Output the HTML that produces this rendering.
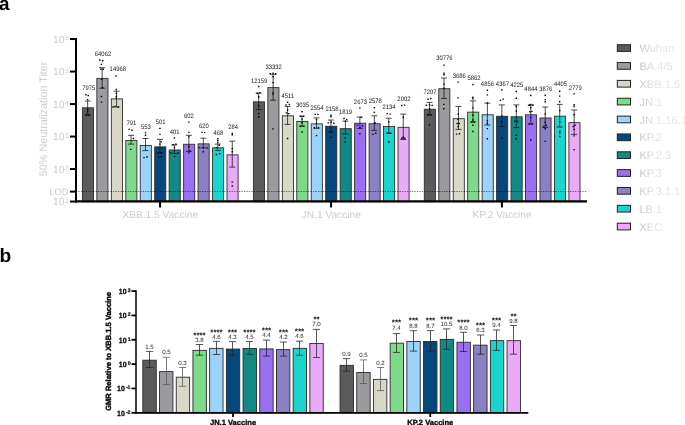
<!DOCTYPE html>
<html lang="en"><head><meta charset="utf-8"><title>Figure</title>
<style>
html,body{margin:0;padding:0;background:#fff;}
body{width:685px;height:425px;overflow:hidden;}
svg{display:block;font-family:"Liberation Sans",Arial,Helvetica,sans-serif;text-rendering:geometricPrecision;}
</style></head><body>
<svg width="685" height="425" viewBox="0 0 685 425">
<rect width="685" height="425" fill="#fff"/>
<text x="-0.9" y="10.3" font-size="18.9" font-weight="bold" fill="#000">a</text>
<text x="-0.5" y="262" font-size="19.2" font-weight="bold" fill="#000">b</text>
<g id="panel-a">
<g class="grp">
<rect x="82.40" y="107.79" width="11.10" height="93.91" fill="#5b5b5b" stroke="#2e2e2e" stroke-width="0.9"/>
<path d="M87.65 101.10V115.00M84.65 101.10h6M84.65 115.00h6" stroke="#111" stroke-width="0.75" fill="none"/>
<path d="M85.25 94.10h1.4v1.4h-1.4zM87.55 94.80h1.4v1.4h-1.4zM86.95 99.10h1.4v1.4h-1.4zM86.95 108.90h1.4v1.4h-1.4zM86.95 110.90h1.4v1.4h-1.4zM85.65 114.60h1.4v1.4h-1.4zM88.25 114.60h1.4v1.4h-1.4z" fill="#000"/>
<text transform="translate(88.80 90) scale(0.92 1)" font-size="6.4" text-anchor="middle" fill="#1a1a1a">7975</text>
<rect x="96.86" y="78.39" width="11.10" height="123.31" fill="#9b9b9f" stroke="#2e2e2e" stroke-width="0.9"/>
<path d="M102.11 67.70V88.20M99.11 67.70h6M99.11 88.20h6" stroke="#111" stroke-width="0.75" fill="none"/>
<path d="M99.11 59.30h1.4v1.4h-1.4zM102.01 60.10h1.4v1.4h-1.4zM100.71 63.70h1.4v1.4h-1.4zM100.21 68.60h1.4v1.4h-1.4zM102.61 68.60h1.4v1.4h-1.4zM100.91 78.60h1.4v1.4h-1.4zM102.01 87.00h1.4v1.4h-1.4zM100.71 95.80h1.4v1.4h-1.4zM100.71 101.40h1.4v1.4h-1.4z" fill="#000"/>
<text transform="translate(103.00 56) scale(0.92 1)" font-size="6.4" text-anchor="middle" fill="#1a1a1a">64062</text>
<rect x="111.32" y="98.91" width="11.10" height="102.79" fill="#d9d7c7" stroke="#2e2e2e" stroke-width="0.9"/>
<path d="M116.57 91.20V107.00M113.57 91.20h6M113.57 107.00h6" stroke="#111" stroke-width="0.75" fill="none"/>
<path d="M115.37 75.30h1.4v1.4h-1.4zM115.57 92.70h1.4v1.4h-1.4zM115.57 88.80h1.4v1.4h-1.4zM115.57 95.80h1.4v1.4h-1.4zM115.57 97.70h1.4v1.4h-1.4zM112.27 106.30h1.4v1.4h-1.4zM114.27 105.70h1.4v1.4h-1.4zM117.57 106.30h1.4v1.4h-1.4z" fill="#000"/>
<text transform="translate(117.80 71) scale(0.92 1)" font-size="6.4" text-anchor="middle" fill="#1a1a1a">14968</text>
<rect x="125.78" y="140.41" width="11.10" height="61.29" fill="#7fd98a" stroke="#2e2e2e" stroke-width="0.9"/>
<path d="M131.03 135.30V144.10M128.03 135.30h6M128.03 144.10h6" stroke="#111" stroke-width="0.75" fill="none"/>
<path d="M128.43 128.70h1.4v1.4h-1.4zM131.23 129.50h1.4v1.4h-1.4zM132.63 137.80h1.4v1.4h-1.4zM130.03 148.70h1.4v1.4h-1.4z" fill="#000"/>
<text transform="translate(131.40 125) scale(0.92 1)" font-size="6.4" text-anchor="middle" fill="#1a1a1a">791</text>
<rect x="140.24" y="145.46" width="11.10" height="56.24" fill="#9bd3fb" stroke="#2e2e2e" stroke-width="0.9"/>
<path d="M145.49 138.50V150.60M142.49 138.50h6M142.49 150.60h6" stroke="#111" stroke-width="0.75" fill="none"/>
<path d="M144.79 132.20h1.4v1.4h-1.4zM144.79 134.60h1.4v1.4h-1.4zM143.29 156.90h1.4v1.4h-1.4zM146.29 156.30h1.4v1.4h-1.4z" fill="#000"/>
<text transform="translate(145.90 129) scale(0.92 1)" font-size="6.4" text-anchor="middle" fill="#1a1a1a">553</text>
<rect x="154.70" y="146.86" width="11.10" height="54.84" fill="#06487c" stroke="#2e2e2e" stroke-width="0.9"/>
<path d="M159.95 139.40V152.90M156.95 139.40h6M156.95 152.90h6" stroke="#111" stroke-width="0.75" fill="none"/>
<path d="M159.25 127.80h1.4v1.4h-1.4zM159.25 133.70h1.4v1.4h-1.4zM160.45 141.10h1.4v1.4h-1.4zM159.25 143.40h1.4v1.4h-1.4zM157.45 152.20h1.4v1.4h-1.4zM160.45 152.20h1.4v1.4h-1.4zM158.05 156.30h1.4v1.4h-1.4zM160.65 156.10h1.4v1.4h-1.4z" fill="#000"/>
<text transform="translate(160.60 124) scale(0.92 1)" font-size="6.4" text-anchor="middle" fill="#1a1a1a">501</text>
<rect x="169.16" y="150.00" width="11.10" height="51.70" fill="#0f8a84" stroke="#2e2e2e" stroke-width="0.9"/>
<path d="M174.41 144.90V153.50M171.41 144.90h6M171.41 153.50h6" stroke="#111" stroke-width="0.75" fill="none"/>
<path d="M173.71 137.30h1.4v1.4h-1.4zM172.31 144.00h1.4v1.4h-1.4zM175.21 143.40h1.4v1.4h-1.4zM173.71 146.90h1.4v1.4h-1.4zM169.91 152.20h1.4v1.4h-1.4zM177.61 152.20h1.4v1.4h-1.4zM173.71 155.80h1.4v1.4h-1.4z" fill="#000"/>
<text transform="translate(174.70 134) scale(0.92 1)" font-size="6.4" text-anchor="middle" fill="#1a1a1a">401</text>
<rect x="183.62" y="144.26" width="11.10" height="57.44" fill="#9a70f2" stroke="#2e2e2e" stroke-width="0.9"/>
<path d="M188.87 135.30V151.40M185.87 135.30h6M185.87 151.40h6" stroke="#111" stroke-width="0.75" fill="none"/>
<path d="M188.17 121.40h1.4v1.4h-1.4zM188.17 131.70h1.4v1.4h-1.4zM188.17 135.80h1.4v1.4h-1.4zM188.17 145.80h1.4v1.4h-1.4zM188.97 149.90h1.4v1.4h-1.4zM188.17 152.20h1.4v1.4h-1.4z" fill="#000"/>
<text transform="translate(188.90 118) scale(0.92 1)" font-size="6.4" text-anchor="middle" fill="#1a1a1a">602</text>
<rect x="198.08" y="143.85" width="11.10" height="57.85" fill="#8a80c3" stroke="#2e2e2e" stroke-width="0.9"/>
<path d="M203.33 138.20V147.90M200.33 138.20h6M200.33 147.90h6" stroke="#111" stroke-width="0.75" fill="none"/>
<path d="M201.43 131.70h1.4v1.4h-1.4zM204.03 131.90h1.4v1.4h-1.4zM198.53 146.90h1.4v1.4h-1.4zM202.63 147.20h1.4v1.4h-1.4zM206.43 147.20h1.4v1.4h-1.4zM202.63 151.10h1.4v1.4h-1.4z" fill="#000"/>
<text transform="translate(203.80 128) scale(0.92 1)" font-size="6.4" text-anchor="middle" fill="#1a1a1a">620</text>
<rect x="212.54" y="147.82" width="11.10" height="53.88" fill="#1ad5cd" stroke="#2e2e2e" stroke-width="0.9"/>
<path d="M217.79 144.10V150.40M214.79 144.10h6M214.79 150.40h6" stroke="#111" stroke-width="0.75" fill="none"/>
<path d="M217.09 138.10h1.4v1.4h-1.4zM217.09 140.10h1.4v1.4h-1.4zM217.09 142.00h1.4v1.4h-1.4zM218.59 144.60h1.4v1.4h-1.4zM215.69 146.90h1.4v1.4h-1.4zM215.69 153.80h1.4v1.4h-1.4zM218.99 153.10h1.4v1.4h-1.4z" fill="#000"/>
<text transform="translate(218.30 135) scale(0.92 1)" font-size="6.4" text-anchor="middle" fill="#1a1a1a">468</text>
<rect x="227.00" y="154.87" width="11.10" height="46.83" fill="#e9aaf9" stroke="#2e2e2e" stroke-width="0.9"/>
<path d="M232.25 141.20V167.10M229.25 141.20h6M229.25 167.10h6" stroke="#111" stroke-width="0.75" fill="none"/>
<path d="M231.55 132.80h1.4v1.4h-1.4zM231.55 134.00h1.4v1.4h-1.4zM231.55 148.10h1.4v1.4h-1.4zM231.55 151.10h1.4v1.4h-1.4zM231.55 181.40h1.4v1.4h-1.4zM231.55 185.30h1.4v1.4h-1.4z" fill="#000"/>
<text transform="translate(233.20 129) scale(0.92 1)" font-size="6.4" text-anchor="middle" fill="#1a1a1a">284</text>
<path d="M160.05 201.7V207.5" stroke="#000" stroke-width="2"/>
<text x="160.25" y="217.50" font-size="10.2" text-anchor="middle" fill="#cdcdcd">XBB.1.5 Vaccine</text>
</g>
<g class="grp">
<rect x="253.40" y="101.84" width="11.10" height="99.86" fill="#5b5b5b" stroke="#2e2e2e" stroke-width="0.9"/>
<path d="M258.65 93.20V109.70M255.65 93.20h6M255.65 109.70h6" stroke="#111" stroke-width="0.75" fill="none"/>
<path d="M257.95 85.80h1.4v1.4h-1.4zM256.55 92.50h1.4v1.4h-1.4zM259.25 91.90h1.4v1.4h-1.4zM257.95 96.10h1.4v1.4h-1.4zM257.95 96.70h1.4v1.4h-1.4zM257.95 104.90h1.4v1.4h-1.4zM257.95 112.80h1.4v1.4h-1.4zM257.95 116.30h1.4v1.4h-1.4z" fill="#000"/>
<text transform="translate(259.10 83) scale(0.92 1)" font-size="6.4" text-anchor="middle" fill="#1a1a1a">12159</text>
<rect x="267.86" y="87.61" width="11.10" height="114.09" fill="#9b9b9f" stroke="#2e2e2e" stroke-width="0.9"/>
<path d="M273.11 74.40V100.20M270.11 74.40h6M270.11 100.20h6" stroke="#111" stroke-width="0.75" fill="none"/>
<path d="M269.51 73.10h1.4v1.4h-1.4zM272.41 72.50h1.4v1.4h-1.4zM275.01 73.10h1.4v1.4h-1.4zM272.41 76.10h1.4v1.4h-1.4zM272.41 81.90h1.4v1.4h-1.4zM272.41 91.90h1.4v1.4h-1.4zM272.41 93.70h1.4v1.4h-1.4zM272.21 128.20h1.4v1.4h-1.4z" fill="#000"/>
<text transform="translate(273.60 69) scale(0.92 1)" font-size="6.4" text-anchor="middle" fill="#1a1a1a">33332</text>
<rect x="282.32" y="115.84" width="11.10" height="85.86" fill="#d9d7c7" stroke="#2e2e2e" stroke-width="0.9"/>
<path d="M287.57 106.40V124.40M284.57 106.40h6M284.57 124.40h6" stroke="#111" stroke-width="0.75" fill="none"/>
<path d="M286.87 101.60h1.4v1.4h-1.4zM285.37 104.30h1.4v1.4h-1.4zM288.67 103.70h1.4v1.4h-1.4zM286.87 109.30h1.4v1.4h-1.4zM285.67 112.20h1.4v1.4h-1.4zM288.07 112.90h1.4v1.4h-1.4zM286.87 137.80h1.4v1.4h-1.4z" fill="#000"/>
<text transform="translate(287.90 98) scale(0.92 1)" font-size="6.4" text-anchor="middle" fill="#1a1a1a">4511</text>
<rect x="296.78" y="121.43" width="11.10" height="80.27" fill="#7fd98a" stroke="#2e2e2e" stroke-width="0.9"/>
<path d="M302.03 116.20V126.20M299.03 116.20h6M299.03 126.20h6" stroke="#111" stroke-width="0.75" fill="none"/>
<path d="M301.33 111.10h1.4v1.4h-1.4zM300.13 115.50h1.4v1.4h-1.4zM302.53 115.50h1.4v1.4h-1.4zM301.33 118.40h1.4v1.4h-1.4zM301.33 121.90h1.4v1.4h-1.4zM299.83 125.50h1.4v1.4h-1.4zM302.73 125.50h1.4v1.4h-1.4zM301.33 131.30h1.4v1.4h-1.4z" fill="#000"/>
<text transform="translate(302.60 107) scale(0.92 1)" font-size="6.4" text-anchor="middle" fill="#1a1a1a">3035</text>
<rect x="311.24" y="123.87" width="11.10" height="77.83" fill="#9bd3fb" stroke="#2e2e2e" stroke-width="0.9"/>
<path d="M316.49 117.90V128.30M313.49 117.90h6M313.49 128.30h6" stroke="#111" stroke-width="0.75" fill="none"/>
<path d="M314.49 113.70h1.4v1.4h-1.4zM317.19 113.70h1.4v1.4h-1.4zM315.79 119.00h1.4v1.4h-1.4zM315.79 122.50h1.4v1.4h-1.4zM313.69 127.00h1.4v1.4h-1.4zM317.79 127.00h1.4v1.4h-1.4zM315.79 134.90h1.4v1.4h-1.4z" fill="#000"/>
<text transform="translate(317.00 110) scale(0.92 1)" font-size="6.4" text-anchor="middle" fill="#1a1a1a">2554</text>
<rect x="325.70" y="126.24" width="11.10" height="75.46" fill="#06487c" stroke="#2e2e2e" stroke-width="0.9"/>
<path d="M330.95 120.00V132.00M327.95 120.00h6M327.95 132.00h6" stroke="#111" stroke-width="0.75" fill="none"/>
<path d="M330.25 114.50h1.4v1.4h-1.4zM330.25 116.10h1.4v1.4h-1.4zM327.55 122.20h1.4v1.4h-1.4zM330.45 121.60h1.4v1.4h-1.4zM333.15 122.50h1.4v1.4h-1.4zM330.25 131.30h1.4v1.4h-1.4zM330.25 136.70h1.4v1.4h-1.4z" fill="#000"/>
<text transform="translate(332.10 111) scale(0.92 1)" font-size="6.4" text-anchor="middle" fill="#1a1a1a">2158</text>
<rect x="340.16" y="128.66" width="11.10" height="73.04" fill="#0f8a84" stroke="#2e2e2e" stroke-width="0.9"/>
<path d="M345.41 121.10V134.00M342.41 121.10h6M342.41 134.00h6" stroke="#111" stroke-width="0.75" fill="none"/>
<path d="M343.31 117.80h1.4v1.4h-1.4zM346.01 118.70h1.4v1.4h-1.4zM344.81 120.40h1.4v1.4h-1.4zM344.51 137.20h1.4v1.4h-1.4zM344.51 141.30h1.4v1.4h-1.4z" fill="#000"/>
<text transform="translate(345.60 114) scale(0.92 1)" font-size="6.4" text-anchor="middle" fill="#1a1a1a">1819</text>
<rect x="354.62" y="123.22" width="11.10" height="78.48" fill="#9a70f2" stroke="#2e2e2e" stroke-width="0.9"/>
<path d="M359.87 117.00V128.30M356.87 117.00h6M356.87 128.30h6" stroke="#111" stroke-width="0.75" fill="none"/>
<path d="M359.17 107.20h1.4v1.4h-1.4zM360.37 116.70h1.4v1.4h-1.4zM356.57 124.70h1.4v1.4h-1.4zM361.77 125.10h1.4v1.4h-1.4zM359.17 127.00h1.4v1.4h-1.4zM359.17 133.10h1.4v1.4h-1.4z" fill="#000"/>
<text transform="translate(360.40 104) scale(0.92 1)" font-size="6.4" text-anchor="middle" fill="#1a1a1a">2673</text>
<rect x="369.08" y="123.73" width="11.10" height="77.97" fill="#8a80c3" stroke="#2e2e2e" stroke-width="0.9"/>
<path d="M374.33 115.80V130.30M371.33 115.80h6M371.33 130.30h6" stroke="#111" stroke-width="0.75" fill="none"/>
<path d="M373.63 106.90h1.4v1.4h-1.4zM373.63 111.70h1.4v1.4h-1.4zM373.63 122.50h1.4v1.4h-1.4zM374.53 122.30h1.4v1.4h-1.4zM372.23 133.70h1.4v1.4h-1.4zM375.13 132.50h1.4v1.4h-1.4z" fill="#000"/>
<text transform="translate(375.30 103) scale(0.92 1)" font-size="6.4" text-anchor="middle" fill="#1a1a1a">2578</text>
<rect x="383.54" y="126.40" width="11.10" height="75.30" fill="#1ad5cd" stroke="#2e2e2e" stroke-width="0.9"/>
<path d="M388.79 118.20V133.20M385.79 118.20h6M385.79 133.20h6" stroke="#111" stroke-width="0.75" fill="none"/>
<path d="M386.59 112.90h1.4v1.4h-1.4zM389.49 113.40h1.4v1.4h-1.4zM388.09 121.30h1.4v1.4h-1.4zM386.89 132.50h1.4v1.4h-1.4zM389.49 132.50h1.4v1.4h-1.4zM388.09 141.30h1.4v1.4h-1.4z" fill="#000"/>
<text transform="translate(389.00 109) scale(0.92 1)" font-size="6.4" text-anchor="middle" fill="#1a1a1a">2134</text>
<rect x="398.00" y="127.30" width="11.10" height="74.40" fill="#e9aaf9" stroke="#2e2e2e" stroke-width="0.9"/>
<path d="M403.25 114.10V139.50M400.25 114.10h6M400.25 139.50h6" stroke="#111" stroke-width="0.75" fill="none"/>
<path d="M401.05 104.80h1.4v1.4h-1.4zM403.95 104.40h1.4v1.4h-1.4zM402.55 116.60h1.4v1.4h-1.4zM401.05 137.60h1.4v1.4h-1.4zM403.95 137.60h1.4v1.4h-1.4zM402.55 136.60h1.4v1.4h-1.4z" fill="#000"/>
<text transform="translate(403.90 101) scale(0.92 1)" font-size="6.4" text-anchor="middle" fill="#1a1a1a">2002</text>
<path d="M331.05 201.7V207.5" stroke="#000" stroke-width="2"/>
<text x="331.25" y="217.50" font-size="10.2" text-anchor="middle" fill="#cdcdcd">JN.1 Vaccine</text>
</g>
<g class="grp">
<rect x="424.30" y="109.22" width="11.10" height="92.48" fill="#5b5b5b" stroke="#2e2e2e" stroke-width="0.9"/>
<path d="M429.55 102.40V114.70M426.55 102.40h6M426.55 114.70h6" stroke="#111" stroke-width="0.75" fill="none"/>
<path d="M427.35 98.50h1.4v1.4h-1.4zM430.05 97.80h1.4v1.4h-1.4zM425.75 104.60h1.4v1.4h-1.4zM428.85 104.30h1.4v1.4h-1.4zM431.45 104.80h1.4v1.4h-1.4zM428.85 108.10h1.4v1.4h-1.4zM427.35 114.30h1.4v1.4h-1.4zM430.25 114.30h1.4v1.4h-1.4zM428.85 124.30h1.4v1.4h-1.4z" fill="#000"/>
<text transform="translate(430.00 94) scale(0.92 1)" font-size="6.4" text-anchor="middle" fill="#1a1a1a">7207</text>
<rect x="438.76" y="88.73" width="11.10" height="112.97" fill="#9b9b9f" stroke="#2e2e2e" stroke-width="0.9"/>
<path d="M444.01 78.00V98.50M441.01 78.00h6M441.01 98.50h6" stroke="#111" stroke-width="0.75" fill="none"/>
<path d="M443.31 64.40h1.4v1.4h-1.4zM443.31 72.50h1.4v1.4h-1.4zM443.31 74.00h1.4v1.4h-1.4zM443.31 83.40h1.4v1.4h-1.4zM443.31 87.50h1.4v1.4h-1.4zM443.11 103.70h1.4v1.4h-1.4zM443.11 108.10h1.4v1.4h-1.4z" fill="#000"/>
<text transform="translate(444.40 60) scale(0.92 1)" font-size="6.4" text-anchor="middle" fill="#1a1a1a">30776</text>
<rect x="453.22" y="118.69" width="11.10" height="83.01" fill="#d9d7c7" stroke="#2e2e2e" stroke-width="0.9"/>
<path d="M458.47 106.50V129.40M455.47 106.50h6M455.47 129.40h6" stroke="#111" stroke-width="0.75" fill="none"/>
<path d="M457.37 81.40h1.4v1.4h-1.4zM457.37 97.20h1.4v1.4h-1.4zM457.37 113.40h1.4v1.4h-1.4zM457.37 118.70h1.4v1.4h-1.4zM456.47 122.80h1.4v1.4h-1.4zM458.47 122.80h1.4v1.4h-1.4zM457.37 125.80h1.4v1.4h-1.4zM455.87 133.40h1.4v1.4h-1.4zM458.77 133.10h1.4v1.4h-1.4z" fill="#000"/>
<text transform="translate(459.20 78) scale(0.92 1)" font-size="6.4" text-anchor="middle" fill="#1a1a1a">3686</text>
<rect x="467.68" y="112.14" width="11.10" height="89.56" fill="#7fd98a" stroke="#2e2e2e" stroke-width="0.9"/>
<path d="M472.93 100.90V121.80M469.93 100.90h6M469.93 121.80h6" stroke="#111" stroke-width="0.75" fill="none"/>
<path d="M472.23 83.80h1.4v1.4h-1.4zM472.23 96.60h1.4v1.4h-1.4zM472.23 98.10h1.4v1.4h-1.4zM472.23 107.20h1.4v1.4h-1.4zM472.23 114.60h1.4v1.4h-1.4zM472.23 119.30h1.4v1.4h-1.4zM471.03 121.70h1.4v1.4h-1.4zM473.43 121.70h1.4v1.4h-1.4zM472.23 124.60h1.4v1.4h-1.4zM472.23 130.80h1.4v1.4h-1.4z" fill="#000"/>
<text transform="translate(474.10 80) scale(0.92 1)" font-size="6.4" text-anchor="middle" fill="#1a1a1a">5862</text>
<rect x="482.14" y="114.80" width="11.10" height="86.90" fill="#9bd3fb" stroke="#2e2e2e" stroke-width="0.9"/>
<path d="M487.39 103.20V125.00M484.39 103.20h6M484.39 125.00h6" stroke="#111" stroke-width="0.75" fill="none"/>
<path d="M486.69 89.50h1.4v1.4h-1.4zM486.69 94.20h1.4v1.4h-1.4zM486.69 102.30h1.4v1.4h-1.4zM486.69 119.90h1.4v1.4h-1.4zM486.69 122.50h1.4v1.4h-1.4zM486.69 127.90h1.4v1.4h-1.4zM486.69 138.10h1.4v1.4h-1.4z" fill="#000"/>
<text transform="translate(487.40 86) scale(0.92 1)" font-size="6.4" text-anchor="middle" fill="#1a1a1a">4856</text>
<rect x="496.60" y="116.29" width="11.10" height="85.41" fill="#06487c" stroke="#2e2e2e" stroke-width="0.9"/>
<path d="M501.85 104.90V126.50M498.85 104.90h6M498.85 126.50h6" stroke="#111" stroke-width="0.75" fill="none"/>
<path d="M501.15 89.30h1.4v1.4h-1.4zM499.75 99.70h1.4v1.4h-1.4zM502.35 98.40h1.4v1.4h-1.4zM501.15 115.20h1.4v1.4h-1.4zM501.15 121.10h1.4v1.4h-1.4zM501.15 137.30h1.4v1.4h-1.4z" fill="#000"/>
<text transform="translate(502.40 86) scale(0.92 1)" font-size="6.4" text-anchor="middle" fill="#1a1a1a">4367</text>
<rect x="511.06" y="116.76" width="11.10" height="84.94" fill="#0f8a84" stroke="#2e2e2e" stroke-width="0.9"/>
<path d="M516.31 104.90V127.60M513.31 104.90h6M513.31 127.60h6" stroke="#111" stroke-width="0.75" fill="none"/>
<path d="M515.61 90.80h1.4v1.4h-1.4zM515.61 97.50h1.4v1.4h-1.4zM515.61 105.80h1.4v1.4h-1.4zM515.61 110.50h1.4v1.4h-1.4zM514.31 120.50h1.4v1.4h-1.4zM517.01 120.80h1.4v1.4h-1.4zM515.61 134.60h1.4v1.4h-1.4zM515.61 138.10h1.4v1.4h-1.4z" fill="#000"/>
<text transform="translate(516.70 87) scale(0.92 1)" font-size="6.4" text-anchor="middle" fill="#1a1a1a">4225</text>
<rect x="525.52" y="114.83" width="11.10" height="86.87" fill="#9a70f2" stroke="#2e2e2e" stroke-width="0.9"/>
<path d="M530.77 105.30V123.90M527.77 105.30h6M527.77 123.90h6" stroke="#111" stroke-width="0.75" fill="none"/>
<path d="M530.07 94.80h1.4v1.4h-1.4zM528.57 104.30h1.4v1.4h-1.4zM530.07 103.70h1.4v1.4h-1.4zM532.07 104.30h1.4v1.4h-1.4zM530.07 106.90h1.4v1.4h-1.4zM529.17 111.10h1.4v1.4h-1.4zM531.17 110.70h1.4v1.4h-1.4zM530.07 116.90h1.4v1.4h-1.4zM528.57 123.40h1.4v1.4h-1.4zM531.47 123.40h1.4v1.4h-1.4zM530.07 139.30h1.4v1.4h-1.4z" fill="#000"/>
<text transform="translate(530.90 91) scale(0.92 1)" font-size="6.4" text-anchor="middle" fill="#1a1a1a">4844</text>
<rect x="539.98" y="117.98" width="11.10" height="83.72" fill="#8a80c3" stroke="#2e2e2e" stroke-width="0.9"/>
<path d="M545.23 107.00V127.40M542.23 107.00h6M542.23 127.40h6" stroke="#111" stroke-width="0.75" fill="none"/>
<path d="M544.53 94.60h1.4v1.4h-1.4zM544.53 98.90h1.4v1.4h-1.4zM544.53 101.10h1.4v1.4h-1.4zM544.53 113.40h1.4v1.4h-1.4zM544.53 121.70h1.4v1.4h-1.4zM543.13 125.80h1.4v1.4h-1.4zM545.43 124.60h1.4v1.4h-1.4zM544.53 128.10h1.4v1.4h-1.4zM544.53 140.70h1.4v1.4h-1.4z" fill="#000"/>
<text transform="translate(545.80 91) scale(0.92 1)" font-size="6.4" text-anchor="middle" fill="#1a1a1a">3876</text>
<rect x="554.44" y="116.17" width="11.10" height="85.53" fill="#1ad5cd" stroke="#2e2e2e" stroke-width="0.9"/>
<path d="M559.69 104.40V127.00M556.69 104.40h6M556.69 127.00h6" stroke="#111" stroke-width="0.75" fill="none"/>
<path d="M558.99 90.50h1.4v1.4h-1.4zM558.99 95.40h1.4v1.4h-1.4zM558.99 101.10h1.4v1.4h-1.4zM558.99 109.90h1.4v1.4h-1.4zM558.99 121.10h1.4v1.4h-1.4zM558.99 130.50h1.4v1.4h-1.4zM558.99 132.30h1.4v1.4h-1.4zM558.99 135.80h1.4v1.4h-1.4z" fill="#000"/>
<text transform="translate(560.50 86) scale(0.92 1)" font-size="6.4" text-anchor="middle" fill="#1a1a1a">4405</text>
<rect x="568.90" y="122.67" width="11.10" height="79.03" fill="#e9aaf9" stroke="#2e2e2e" stroke-width="0.9"/>
<path d="M574.15 110.00V134.40M571.15 110.00h6M571.15 134.40h6" stroke="#111" stroke-width="0.75" fill="none"/>
<path d="M573.45 93.20h1.4v1.4h-1.4zM573.45 104.00h1.4v1.4h-1.4zM573.45 105.80h1.4v1.4h-1.4zM573.45 114.00h1.4v1.4h-1.4zM572.55 125.80h1.4v1.4h-1.4zM574.25 124.60h1.4v1.4h-1.4zM573.45 128.70h1.4v1.4h-1.4zM573.45 135.20h1.4v1.4h-1.4zM573.45 148.90h1.4v1.4h-1.4z" fill="#000"/>
<text transform="translate(575.20 90) scale(0.92 1)" font-size="6.4" text-anchor="middle" fill="#1a1a1a">2779</text>
<path d="M501.95 201.7V207.5" stroke="#000" stroke-width="2"/>
<text x="502.15" y="217.50" font-size="10.2" text-anchor="middle" fill="#cdcdcd">KP.2 Vaccine</text>
</g>
<path d="M76.0 191.5H587" stroke="#000" stroke-opacity="0.75" stroke-width="0.7" stroke-dasharray="1.3 1.17" fill="none"/>
<path d="M76.0 38.1V202.5" stroke="#000" stroke-width="2" fill="none"/>
<path d="M75.0 201.39999999999998H587" stroke="#000" stroke-width="2.3" fill="none"/>
<path d="M70 191.6H76.0" stroke="#000" stroke-width="2"/>
<path d="M70 201.55H76.0" stroke="#000" stroke-width="2"/>
<text x="64.5" y="205.00" font-size="10.4" text-anchor="end" fill="#cdcdcd">10</text>
<text x="65.3" y="202.50" font-size="6.4" fill="#cdcdcd">1</text>
<path d="M70 169.05H76.0" stroke="#000" stroke-width="2"/>
<text x="64.5" y="172.50" font-size="10.4" text-anchor="end" fill="#cdcdcd">10</text>
<text x="65.3" y="170.00" font-size="6.4" fill="#cdcdcd">2</text>
<path d="M70 136.55H76.0" stroke="#000" stroke-width="2"/>
<text x="64.5" y="140.00" font-size="10.4" text-anchor="end" fill="#cdcdcd">10</text>
<text x="65.3" y="137.50" font-size="6.4" fill="#cdcdcd">3</text>
<path d="M70 104.05H76.0" stroke="#000" stroke-width="2"/>
<text x="64.5" y="107.50" font-size="10.4" text-anchor="end" fill="#cdcdcd">10</text>
<text x="65.3" y="105.00" font-size="6.4" fill="#cdcdcd">4</text>
<path d="M70 71.55H76.0" stroke="#000" stroke-width="2"/>
<text x="64.5" y="75.00" font-size="10.4" text-anchor="end" fill="#cdcdcd">10</text>
<text x="65.3" y="72.50" font-size="6.4" fill="#cdcdcd">5</text>
<path d="M70 39.05H76.0" stroke="#000" stroke-width="2"/>
<text x="64.5" y="42.50" font-size="10.4" text-anchor="end" fill="#cdcdcd">10</text>
<text x="65.3" y="40.00" font-size="6.4" fill="#cdcdcd">6</text>
<text x="68.6" y="194.7" font-size="9.4" text-anchor="end" fill="#cdcdcd">LOD</text>
<text transform="translate(47.4 118.9) rotate(-90)" font-size="10.8" text-anchor="middle" fill="#cdcdcd">50% Neutralization Titer</text>
</g>
<defs><linearGradient id="lg" gradientUnits="userSpaceOnUse" x1="640" y1="0" x2="654" y2="0"><stop offset="0" stop-color="#c4c4c4"/><stop offset="1" stop-color="#e4e4e4"/></linearGradient></defs>
<g id="legend">
<rect x="617.3" y="44.70" width="13.2" height="6.7" fill="#5b5b5b" stroke="#222" stroke-width="1"/>
<text x="639.4" y="52.20" font-size="11.1" fill="url(#lg)">Wuhan</text>
<rect x="617.3" y="62.55" width="13.2" height="6.7" fill="#9b9b9f" stroke="#222" stroke-width="1"/>
<text x="639.4" y="70.05" font-size="11.1" fill="url(#lg)">BA.4/5</text>
<rect x="617.3" y="80.40" width="13.2" height="6.7" fill="#d9d7c7" stroke="#222" stroke-width="1"/>
<text x="639.4" y="87.90" font-size="11.1" fill="url(#lg)">XBB.1.5</text>
<rect x="617.3" y="98.25" width="13.2" height="6.7" fill="#7fd98a" stroke="#222" stroke-width="1"/>
<text x="639.4" y="105.75" font-size="11.1" fill="url(#lg)">JN.1</text>
<rect x="617.3" y="116.10" width="13.2" height="6.7" fill="#9bd3fb" stroke="#222" stroke-width="1"/>
<text x="639.4" y="123.60" font-size="11.1" fill="url(#lg)">JN.1.16.1</text>
<rect x="617.3" y="133.95" width="13.2" height="6.7" fill="#06487c" stroke="#222" stroke-width="1"/>
<text x="639.4" y="141.45" font-size="11.1" fill="url(#lg)">KP.2</text>
<rect x="617.3" y="151.80" width="13.2" height="6.7" fill="#0f8a84" stroke="#222" stroke-width="1"/>
<text x="639.4" y="159.30" font-size="11.1" fill="url(#lg)">KP.2.3</text>
<rect x="617.3" y="169.65" width="13.2" height="6.7" fill="#9a70f2" stroke="#222" stroke-width="1"/>
<text x="639.4" y="177.15" font-size="11.1" fill="url(#lg)">KP.3</text>
<rect x="617.3" y="187.50" width="13.2" height="6.7" fill="#8a80c3" stroke="#222" stroke-width="1"/>
<text x="639.4" y="195.00" font-size="11.1" fill="url(#lg)">KP.3.1.1</text>
<rect x="617.3" y="205.35" width="13.2" height="6.7" fill="#1ad5cd" stroke="#222" stroke-width="1"/>
<text x="639.4" y="212.85" font-size="11.1" fill="url(#lg)">LB.1</text>
<rect x="617.3" y="223.20" width="13.2" height="6.7" fill="#e9aaf9" stroke="#222" stroke-width="1"/>
<text x="639.4" y="230.70" font-size="11.1" fill="url(#lg)">XEC</text>
</g>
<g id="panel-b">
<g class="grp">
<rect x="142.85" y="360.20" width="13.40" height="52.60" fill="#5b5b5b" stroke="#2a2a2a" stroke-width="0.9"/>
<path d="M149.50 351.40V367.50M145.90 351.40h7.2M145.90 367.50h7.2" stroke="#222" stroke-width="0.75" fill="none"/>
<text transform="translate(149.50 349) scale(1 1)" font-size="6.1" text-anchor="middle" fill="#222">1.5</text>
<rect x="159.55" y="371.60" width="13.40" height="41.20" fill="#9b9b9f" stroke="#2a2a2a" stroke-width="0.9"/>
<path d="M166.50 357.30V384.60M162.90 357.30h7.2M162.90 384.60h7.2" stroke="#555" stroke-width="0.75" fill="none"/>
<text transform="translate(166.50 354) scale(1 1)" font-size="6.1" text-anchor="middle" fill="#222">0.5</text>
<rect x="176.25" y="377.20" width="13.40" height="35.60" fill="#d9d7c7" stroke="#2a2a2a" stroke-width="0.9"/>
<path d="M182.50 367.50V386.30M178.90 367.50h7.2M178.90 386.30h7.2" stroke="#555" stroke-width="0.75" fill="none"/>
<text transform="translate(182.50 365) scale(1 1)" font-size="6.1" text-anchor="middle" fill="#222">0.3</text>
<rect x="192.95" y="350.35" width="13.40" height="62.45" fill="#7fd98a" stroke="#2a2a2a" stroke-width="0.9"/>
<path d="M199.50 344.50V355.20M195.90 344.50h7.2M195.90 355.20h7.2" stroke="#222" stroke-width="0.75" fill="none"/>
<text transform="translate(199.50 342) scale(1 1)" font-size="6.1" text-anchor="middle" fill="#222">3.8</text>
<text x="199.50" y="338.10" font-size="8" font-weight="bold" text-anchor="middle" fill="#111">****</text>
<rect x="209.65" y="348.35" width="13.40" height="64.45" fill="#9bd3fb" stroke="#2a2a2a" stroke-width="0.9"/>
<path d="M216.50 341.30V354.50M212.90 341.30h7.2M212.90 354.50h7.2" stroke="#222" stroke-width="0.75" fill="none"/>
<text transform="translate(216.50 339) scale(1 1)" font-size="6.1" text-anchor="middle" fill="#222">4.6</text>
<text x="216.50" y="334.70" font-size="8" font-weight="bold" text-anchor="middle" fill="#111">****</text>
<rect x="226.35" y="349.05" width="13.40" height="63.75" fill="#06487c" stroke="#2a2a2a" stroke-width="0.9"/>
<path d="M232.50 341.60V355.20M228.90 341.60h7.2M228.90 355.20h7.2" stroke="#222" stroke-width="0.75" fill="none"/>
<text transform="translate(232.50 339) scale(1 1)" font-size="6.1" text-anchor="middle" fill="#222">4.3</text>
<text x="232.50" y="334.70" font-size="8" font-weight="bold" text-anchor="middle" fill="#111">***</text>
<rect x="243.05" y="348.50" width="13.40" height="64.30" fill="#0f8a84" stroke="#2a2a2a" stroke-width="0.9"/>
<path d="M249.50 341.60V354.30M245.90 341.60h7.2M245.90 354.30h7.2" stroke="#222" stroke-width="0.75" fill="none"/>
<text transform="translate(249.50 339) scale(1 1)" font-size="6.1" text-anchor="middle" fill="#222">4.5</text>
<text x="249.50" y="334.70" font-size="8" font-weight="bold" text-anchor="middle" fill="#111">****</text>
<rect x="259.75" y="348.90" width="13.40" height="63.90" fill="#9a70f2" stroke="#2a2a2a" stroke-width="0.9"/>
<path d="M266.50 340.10V356.10M262.90 340.10h7.2M262.90 356.10h7.2" stroke="#222" stroke-width="0.75" fill="none"/>
<text transform="translate(266.50 337) scale(1 1)" font-size="6.1" text-anchor="middle" fill="#222">4.4</text>
<text x="266.50" y="333.20" font-size="8" font-weight="bold" text-anchor="middle" fill="#111">***</text>
<rect x="276.45" y="349.60" width="13.40" height="63.20" fill="#8a80c3" stroke="#2a2a2a" stroke-width="0.9"/>
<path d="M283.50 342.00V356.10M279.90 342.00h7.2M279.90 356.10h7.2" stroke="#222" stroke-width="0.75" fill="none"/>
<text transform="translate(283.50 339) scale(1 1)" font-size="6.1" text-anchor="middle" fill="#222">4.2</text>
<text x="283.50" y="335.10" font-size="8" font-weight="bold" text-anchor="middle" fill="#111">***</text>
<rect x="293.15" y="348.35" width="13.40" height="64.45" fill="#1ad5cd" stroke="#2a2a2a" stroke-width="0.9"/>
<path d="M299.50 341.10V355.20M295.90 341.10h7.2M295.90 355.20h7.2" stroke="#222" stroke-width="0.75" fill="none"/>
<text transform="translate(299.50 338) scale(1 1)" font-size="6.1" text-anchor="middle" fill="#222">4.6</text>
<text x="299.50" y="333.80" font-size="8" font-weight="bold" text-anchor="middle" fill="#111">***</text>
<rect x="309.85" y="343.55" width="13.40" height="69.25" fill="#e9aaf9" stroke="#2a2a2a" stroke-width="0.9"/>
<path d="M316.50 329.40V357.50M312.90 329.40h7.2M312.90 357.50h7.2" stroke="#222" stroke-width="0.75" fill="none"/>
<text transform="translate(316.50 326) scale(1 1)" font-size="6.1" text-anchor="middle" fill="#222">7.0</text>
<text x="316.50" y="321.90" font-size="8" font-weight="bold" text-anchor="middle" fill="#111">**</text>
<path d="M233.05 412.8V417.0" stroke="#000" stroke-width="1.8"/>
<text x="233.05" y="425" font-size="7.55" font-weight="bold" text-anchor="middle" fill="#000" stroke="#000" stroke-width="0.3">JN.1 Vaccine</text>
</g>
<g class="grp">
<rect x="340.05" y="365.35" width="13.40" height="47.45" fill="#5b5b5b" stroke="#2a2a2a" stroke-width="0.9"/>
<path d="M346.50 358.60V371.20M342.90 358.60h7.2M342.90 371.20h7.2" stroke="#222" stroke-width="0.75" fill="none"/>
<text transform="translate(346.50 356) scale(1 1)" font-size="6.1" text-anchor="middle" fill="#222">0.9</text>
<rect x="356.75" y="372.45" width="13.40" height="40.35" fill="#9b9b9f" stroke="#2a2a2a" stroke-width="0.9"/>
<path d="M363.50 359.90V383.50M359.90 359.90h7.2M359.90 383.50h7.2" stroke="#555" stroke-width="0.75" fill="none"/>
<text transform="translate(363.50 357) scale(1 1)" font-size="6.1" text-anchor="middle" fill="#222">0.5</text>
<rect x="373.45" y="379.35" width="13.40" height="33.45" fill="#d9d7c7" stroke="#2a2a2a" stroke-width="0.9"/>
<path d="M380.50 367.50V390.60M376.90 367.50h7.2M376.90 390.60h7.2" stroke="#555" stroke-width="0.75" fill="none"/>
<text transform="translate(380.50 365) scale(1 1)" font-size="6.1" text-anchor="middle" fill="#222">0.2</text>
<rect x="390.15" y="343.20" width="13.40" height="69.60" fill="#7fd98a" stroke="#2a2a2a" stroke-width="0.9"/>
<path d="M396.50 333.60V352.40M392.90 333.60h7.2M392.90 352.40h7.2" stroke="#222" stroke-width="0.75" fill="none"/>
<text transform="translate(396.50 330) scale(1 1)" font-size="6.1" text-anchor="middle" fill="#222">7.4</text>
<text x="396.50" y="325.40" font-size="8" font-weight="bold" text-anchor="middle" fill="#111">***</text>
<rect x="406.85" y="341.45" width="13.40" height="71.35" fill="#9bd3fb" stroke="#2a2a2a" stroke-width="0.9"/>
<path d="M413.50 330.70V351.10M409.90 330.70h7.2M409.90 351.10h7.2" stroke="#222" stroke-width="0.75" fill="none"/>
<text transform="translate(413.50 328) scale(1 1)" font-size="6.1" text-anchor="middle" fill="#222">8.8</text>
<text x="413.50" y="323.40" font-size="8" font-weight="bold" text-anchor="middle" fill="#111">***</text>
<rect x="423.55" y="341.45" width="13.40" height="71.35" fill="#06487c" stroke="#2a2a2a" stroke-width="0.9"/>
<path d="M430.50 330.60V351.30M426.90 330.60h7.2M426.90 351.30h7.2" stroke="#222" stroke-width="0.75" fill="none"/>
<text transform="translate(430.50 328) scale(1 1)" font-size="6.1" text-anchor="middle" fill="#222">8.7</text>
<text x="430.50" y="323.40" font-size="8" font-weight="bold" text-anchor="middle" fill="#111">***</text>
<rect x="440.25" y="339.35" width="13.40" height="73.45" fill="#0f8a84" stroke="#2a2a2a" stroke-width="0.9"/>
<path d="M446.50 328.90V349.30M442.90 328.90h7.2M442.90 349.30h7.2" stroke="#222" stroke-width="0.75" fill="none"/>
<text transform="translate(446.50 326) scale(1 1)" font-size="6.1" text-anchor="middle" fill="#222">10.5</text>
<text x="446.50" y="321.50" font-size="8" font-weight="bold" text-anchor="middle" fill="#111">****</text>
<rect x="456.95" y="342.25" width="13.40" height="70.55" fill="#9a70f2" stroke="#2a2a2a" stroke-width="0.9"/>
<path d="M463.50 332.30V351.50M459.90 332.30h7.2M459.90 351.50h7.2" stroke="#222" stroke-width="0.75" fill="none"/>
<text transform="translate(463.50 330) scale(1 1)" font-size="6.1" text-anchor="middle" fill="#222">8.0</text>
<text x="463.50" y="325.40" font-size="8" font-weight="bold" text-anchor="middle" fill="#111">****</text>
<rect x="473.65" y="345.15" width="13.40" height="67.65" fill="#8a80c3" stroke="#2a2a2a" stroke-width="0.9"/>
<path d="M480.50 335.00V354.20M476.90 335.00h7.2M476.90 354.20h7.2" stroke="#222" stroke-width="0.75" fill="none"/>
<text transform="translate(480.50 332) scale(1 1)" font-size="6.1" text-anchor="middle" fill="#222">6.3</text>
<text x="480.50" y="327.70" font-size="8" font-weight="bold" text-anchor="middle" fill="#111">***</text>
<rect x="490.35" y="340.65" width="13.40" height="72.15" fill="#1ad5cd" stroke="#2a2a2a" stroke-width="0.9"/>
<path d="M496.50 330.00V350.40M492.90 330.00h7.2M492.90 350.40h7.2" stroke="#222" stroke-width="0.75" fill="none"/>
<text transform="translate(496.50 327) scale(1 1)" font-size="6.1" text-anchor="middle" fill="#222">9.4</text>
<text x="496.50" y="322.70" font-size="8" font-weight="bold" text-anchor="middle" fill="#111">***</text>
<rect x="507.05" y="340.65" width="13.40" height="72.15" fill="#e9aaf9" stroke="#2a2a2a" stroke-width="0.9"/>
<path d="M513.50 325.50V354.20M509.90 325.50h7.2M509.90 354.20h7.2" stroke="#222" stroke-width="0.75" fill="none"/>
<text transform="translate(513.50 323) scale(1 1)" font-size="6.1" text-anchor="middle" fill="#222">9.8</text>
<text x="513.50" y="318.60" font-size="8" font-weight="bold" text-anchor="middle" fill="#111">**</text>
<path d="M430.25 412.8V417.0" stroke="#000" stroke-width="1.8"/>
<text x="430.25" y="425" font-size="7.55" font-weight="bold" text-anchor="middle" fill="#000" stroke="#000" stroke-width="0.3">KP.2 Vaccine</text>
</g>
<path d="M136.0 290.3V413.7" stroke="#000" stroke-width="1.5" fill="none"/>
<path d="M135.25 412.8H528.3" stroke="#000" stroke-width="1.8" fill="none"/>
<path d="M131.5 412.80H136.0" stroke="#000" stroke-width="1.8"/>
<text transform="translate(124.80 415.70) scale(0.93 1)" font-size="7.5" font-weight="bold" text-anchor="end" fill="#000" stroke="#000" stroke-width="0.25">10</text>
<text x="125.90" y="413.80" font-size="5.2" font-weight="bold" fill="#000" stroke="#000" stroke-width="0.2">-2</text>
<path d="M131.5 388.46H136.0" stroke="#000" stroke-width="1.8"/>
<text transform="translate(124.80 391.36) scale(0.93 1)" font-size="7.5" font-weight="bold" text-anchor="end" fill="#000" stroke="#000" stroke-width="0.25">10</text>
<text x="125.90" y="389.46" font-size="5.2" font-weight="bold" fill="#000" stroke="#000" stroke-width="0.2">-1</text>
<path d="M131.5 364.12H136.0" stroke="#000" stroke-width="1.8"/>
<text transform="translate(126.60 367.02) scale(0.93 1)" font-size="7.5" font-weight="bold" text-anchor="end" fill="#000" stroke="#000" stroke-width="0.25">10</text>
<text x="127.70" y="365.12" font-size="5.2" font-weight="bold" fill="#000" stroke="#000" stroke-width="0.2">0</text>
<path d="M131.5 339.78H136.0" stroke="#000" stroke-width="1.8"/>
<text transform="translate(126.60 342.68) scale(0.93 1)" font-size="7.5" font-weight="bold" text-anchor="end" fill="#000" stroke="#000" stroke-width="0.25">10</text>
<text x="127.70" y="340.78" font-size="5.2" font-weight="bold" fill="#000" stroke="#000" stroke-width="0.2">1</text>
<path d="M131.5 315.44H136.0" stroke="#000" stroke-width="1.8"/>
<text transform="translate(126.60 318.34) scale(0.93 1)" font-size="7.5" font-weight="bold" text-anchor="end" fill="#000" stroke="#000" stroke-width="0.25">10</text>
<text x="127.70" y="316.44" font-size="5.2" font-weight="bold" fill="#000" stroke="#000" stroke-width="0.2">2</text>
<path d="M131.5 291.10H136.0" stroke="#000" stroke-width="1.8"/>
<text transform="translate(126.60 294.00) scale(0.93 1)" font-size="7.5" font-weight="bold" text-anchor="end" fill="#000" stroke="#000" stroke-width="0.25">10</text>
<text x="127.70" y="292.10" font-size="5.2" font-weight="bold" fill="#000" stroke="#000" stroke-width="0.2">3</text>
<text transform="translate(110.6 351.4) rotate(-90)" font-size="7.57" font-weight="bold" text-anchor="middle" fill="#000" stroke="#000" stroke-width="0.35">GMR Relative to XBB.1.5 Vaccine</text>
</g>
</svg>
</body></html>
